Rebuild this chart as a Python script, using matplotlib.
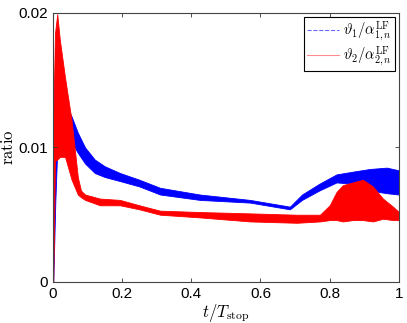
import matplotlib
matplotlib.use("Agg")
import matplotlib.pyplot as plt
from matplotlib.lines import Line2D

plt.rcParams['font.family'] = ['Liberation Sans', 'DejaVu Sans']
plt.rcParams['mathtext.fontset'] = 'cm'

# series 1: theta_1 / alpha^LF_{1,n} (oscillating band: lower/upper envelope)
t1 = [0.0, 0.001, 0.007, 0.012, 0.02, 0.035, 0.054, 0.072, 0.093, 0.121, 0.15, 0.194,
      0.25, 0.31, 0.425, 0.57, 0.685, 0.72, 0.77, 0.82, 0.867, 0.916, 0.965, 1.0]
up1 = [0.0, 0.0100, 0.0174, 0.0145, 0.0136, 0.0133, 0.0123, 0.0111, 0.0100, 0.0091,
       0.0086, 0.0081, 0.0076, 0.0070, 0.0065, 0.0061, 0.0056, 0.0065, 0.0073, 0.0080,
       0.0082, 0.0084, 0.0085, 0.0083]
lo1 = [0.0, 0.0, 0.0060, 0.0095, 0.0108, 0.0112, 0.0104, 0.0096, 0.0088, 0.0081,
       0.0078, 0.0075, 0.0071, 0.0065, 0.0061, 0.0059, 0.0054, 0.0061, 0.0068, 0.0074,
       0.0073, 0.0068, 0.0066, 0.0065]

# series 2: theta_2 / alpha^LF_{2,n}
t2 = [0.0, 0.001, 0.006, 0.0125, 0.02, 0.035, 0.054, 0.072, 0.081, 0.093, 0.136,
      0.194, 0.25, 0.31, 0.425, 0.57, 0.705, 0.772, 0.80, 0.82, 0.838, 0.867, 0.896,
      0.925, 0.954, 0.983, 1.0]
up2 = [0.0, 0.0120, 0.0185, 0.0199, 0.0180, 0.0152, 0.0120, 0.0078, 0.0068, 0.0065,
       0.0062, 0.0061, 0.0057, 0.0053, 0.0052, 0.0051, 0.0050, 0.0050, 0.0057, 0.0067,
       0.0072, 0.0074, 0.0076, 0.0071, 0.0062, 0.0056, 0.0052]
lo2 = [0.0, 0.0, 0.0090, 0.0091, 0.0093, 0.0093, 0.0076, 0.0065, 0.0063, 0.0061,
       0.0057, 0.0057, 0.0054, 0.0050, 0.0048, 0.0045, 0.0044, 0.0045, 0.0046, 0.0046,
       0.0045, 0.0046, 0.0046, 0.0045, 0.0047, 0.0046, 0.0046]

xticks = [0, 0.2, 0.4, 0.6, 0.8, 1]
xticklabels = ['0', '0.2', '0.4', '0.6', '0.8', '1']
yticks = [0, 0.01, 0.02]
yticklabels = ['0', '0.01', '0.02']

fig = plt.figure(figsize=(4.07, 3.23), dpi=100)
ax = fig.add_axes([0.130, 0.127, 0.850, 0.833])

ax.fill_between(t1, lo1, up1, color='#0000ff', lw=0.6, edgecolor='#0000ff')
ax.fill_between(t2, lo2, up2, color='#ff0000', lw=0.6, edgecolor='#ff0000')

ax.set_xlim(0, 1)
ax.set_ylim(0, 0.02)
ax.set_xticks(xticks)
ax.set_xticklabels(xticklabels)
ax.set_yticks(yticks)
ax.set_yticklabels(yticklabels)
ax.tick_params(direction='in', top=True, right=True, length=3, width=0.6,
               labelsize=11, colors='#333333', labelcolor='black')
for s in ax.spines.values():
    s.set_color('#444444')
    s.set_linewidth(0.8)

ax.set_xlabel(r'$t/T_{\mathrm{stop}}$', fontsize=12, labelpad=1)
ax.set_ylabel(r'$\mathrm{ratio}$', fontsize=12, labelpad=2)

handles = [Line2D([], [], color='#0000ff', ls='--', lw=0.8, alpha=0.6),
           Line2D([], [], color='#ff0000', ls='-', lw=0.8, alpha=0.45)]
labels = [r'$\vartheta_1/\alpha^{\mathrm{LF}}_{1,n}$', r'$\vartheta_2/\alpha^{\mathrm{LF}}_{2,n}$']
leg = ax.legend(handles, labels, loc='upper right', fontsize=10.5, fancybox=False,
                framealpha=1, edgecolor='black', borderpad=0.2, handlelength=2.2,
                handletextpad=0.3, labelspacing=0.15, borderaxespad=0.25)
leg.get_frame().set_linewidth(0.8)

fig.savefig('out.png', dpi=100)
